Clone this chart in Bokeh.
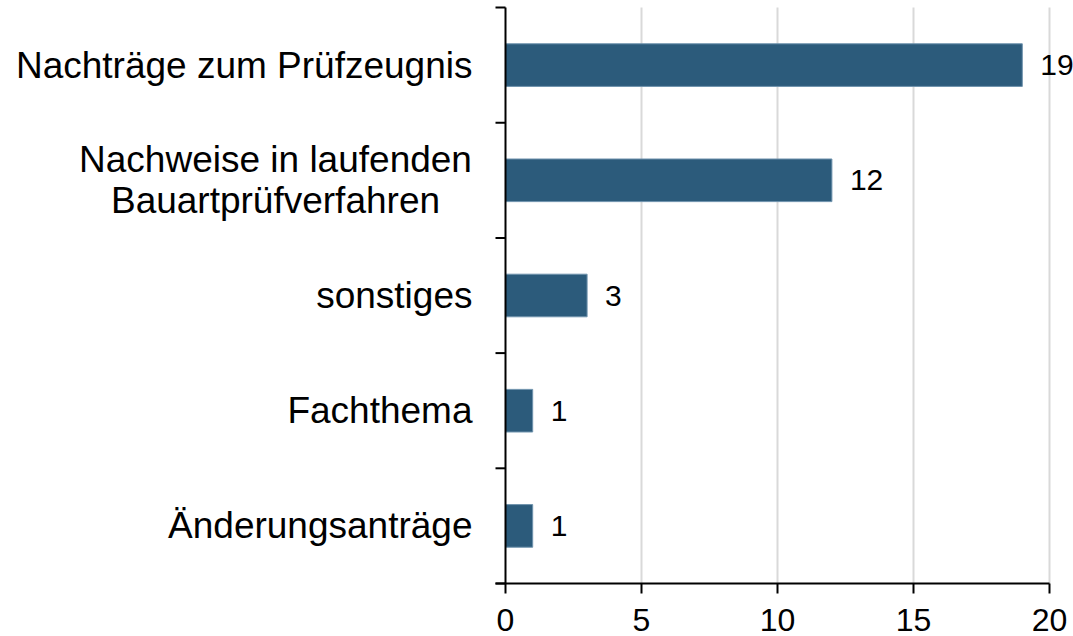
from bokeh.plotting import figure
from bokeh.models import ColumnDataSource
from bokeh.core.properties import value
from bokeh.embed import file_html
from bokeh.resources import INLINE

categories = ["Nachträge zum Prüfzeugnis",
              "Nachweise in laufenden\nBauartprüfverfahren",
              "sonstiges",
              "Fachthema",
              "Änderungsanträge"]
counts = [19, 12, 3, 1, 1]
x_ticks = [0, 5, 10, 15, 20]

n = len(categories)
ypos = [n - i - 0.5 for i in range(n)]

FONT = value("Liberation Sans")
BAR = "#2c5b7b"

W, H = 1073, 636
X0PX, X20PX = 505, 1049      # pixel of x=0 and x=20
YTOP, YBOT = 7, 583          # pixel of plot top / x axis
PXX = (X20PX - X0PX) / 20.0
PXY = (YBOT - YTOP) / n
TICK = 10                    # tick length px
XMIN = -TICK / PXX

p = figure(width=W, height=H, output_backend="svg", toolbar_location=None,
           x_range=(-X0PX / PXX, (W - X0PX) / PXX),
           y_range=(-(H - YBOT) / PXY, n + YTOP / PXY),
           min_border=0)
p.axis.visible = False
p.grid.visible = False
p.outline_line_color = None
p.background_fill_color = "white"

# vertical grid lines
grid_x = x_ticks[1:]
p.segment(x0=grid_x, x1=grid_x, y0=[0] * len(grid_x), y1=[n] * len(grid_x),
          line_color="#d9d9d9", line_width=2)

# bars + values
src = ColumnDataSource(dict(y=ypos, v=counts, lab=[str(c) for c in counts]))
p.hbar(y="y", left=0, right="v", height=0.37, source=src,
       fill_color=BAR, line_color="#6f93ad", line_width=1)
p.text(x="v", y="y", text="lab", source=src, x_offset=18,
       text_baseline="middle", text_align="left",
       text_font=FONT, text_font_size="30px", text_color="black")

# x axis
p.segment(x0=[XMIN], x1=[20], y0=[0], y1=[0], line_color="black", line_width=2)
p.segment(x0=x_ticks, x1=x_ticks, y0=[0] * len(x_ticks),
          y1=[-TICK / PXY] * len(x_ticks), line_color="black", line_width=2)
p.text(x=x_ticks, y=[-(619 - YBOT) / PXY] * len(x_ticks),
       text=[str(t) for t in x_ticks],
       text_baseline="middle", text_align="center",
       text_font=FONT, text_font_size="32px", text_color="black")

# y axis
bounds = list(range(n + 1))
p.segment(x0=[0], x1=[0], y0=[0], y1=[n], line_color="black", line_width=2)
p.segment(x0=[XMIN] * len(bounds), x1=[0] * len(bounds), y0=bounds, y1=bounds,
          line_color="black", line_width=2)

single = [(y, c) for y, c in zip(ypos, categories) if "\n" not in c]
multi = [(y, c) for y, c in zip(ypos, categories) if "\n" in c]
p.text(x=[0] * len(single), y=[y for y, _ in single], text=[c for _, c in single],
       x_offset=-33, text_align="right", text_baseline="middle",
       text_font=FONT, text_font_size="37px", text_color="black")
p.text(x=[0] * len(multi), y=[y for y, _ in multi], text=[c for _, c in multi],
       x_offset=-230, text_align="center", text_baseline="middle",
       text_line_height=1.0,
       text_font=FONT, text_font_size="37px", text_color="black")

open("out.html", "w").write(file_html(p, INLINE))
